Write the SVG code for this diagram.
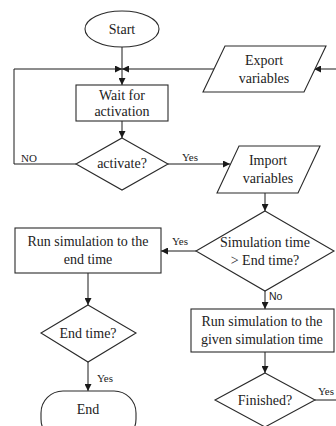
<svg xmlns="http://www.w3.org/2000/svg" width="336" height="426" viewBox="0 0 336 426">
  <style>
    .shape { fill: #ffffff; stroke: #2a2a2a; stroke-width: 1.1; }
    .line { fill: none; stroke: #1a1a1a; stroke-width: 1; }
    .txt { font-family: "Liberation Serif", "Times New Roman", serif; font-size: 14px; fill: #222; text-anchor: middle; }
    .lbl { font-family: "Liberation Serif", "Times New Roman", serif; font-size: 11px; fill: #222; }
    .lbl-sans { font-family: "Liberation Sans", Arial, sans-serif; font-size: 10.5px; fill: #222; }
  </style>
  <defs>
    <marker id="arrow" viewBox="0 0 10 10" refX="10" refY="5" markerWidth="7" markerHeight="7" markerUnits="userSpaceOnUse" orient="auto">
      <path d="M0,0 L10,5 L0,10 z" fill="#1a1a1a"/>
    </marker>
  </defs>
  <rect width="336" height="426" fill="#ffffff"/>

  <!-- connectors -->
  <g id="connectors">
    <line class="line" x1="122" y1="47" x2="122" y2="85" marker-end="url(#arrow)"/>
    <polyline class="line" points="76,164 14,164 14,69 122,69" marker-end="url(#arrow)"/>
    <line class="line" x1="214" y1="69" x2="122" y2="69" marker-end="url(#arrow)"/>
    <line class="line" x1="336" y1="69" x2="314" y2="69" marker-end="url(#arrow)"/>
    <line class="line" x1="122" y1="121" x2="122" y2="138" marker-end="url(#arrow)"/>
    <line class="line" x1="168" y1="164" x2="230" y2="164" marker-end="url(#arrow)"/>
    <line class="line" x1="265" y1="193" x2="265" y2="211" marker-end="url(#arrow)"/>
    <line class="line" x1="196" y1="251" x2="161" y2="251" marker-end="url(#arrow)"/>
    <line class="line" x1="265" y1="291" x2="265" y2="309" marker-end="url(#arrow)"/>
    <line class="line" x1="265" y1="352" x2="265" y2="373" marker-end="url(#arrow)"/>
    <line class="line" x1="315" y1="400" x2="336" y2="400"/>
    <line class="line" x1="88" y1="273" x2="88" y2="305" marker-end="url(#arrow)"/>
    <line class="line" x1="88" y1="362" x2="88" y2="391" marker-end="url(#arrow)"/>
    <text class="lbl" x="21" y="162">NO</text>
    <text class="lbl" x="182" y="161">Yes</text>
    <text class="lbl" x="172" y="245">Yes</text>
    <text class="lbl-sans" x="269" y="300">No</text>
    <text class="lbl" x="318" y="395">Yes</text>
    <text class="lbl" x="97" y="382">Yes</text>
  </g>

  <g id="start">
    <ellipse class="shape" cx="122" cy="29" rx="37" ry="18"/>
    <text class="txt" x="122" y="34">Start</text>
  </g>

  <g id="wait">
    <rect class="shape" x="76" y="85" width="92" height="36"/>
    <text class="txt" x="122" y="100">Wait for</text>
    <text class="txt" x="122" y="116">activation</text>
  </g>

  <g id="activate">
    <polygon class="shape" points="122,138 168,164 122,190 76,164"/>
    <text class="txt" x="122" y="168">activate?</text>
  </g>

  <g id="export">
    <polygon class="shape" points="225,46 326,46 304,92 203,92"/>
    <text class="txt" x="264" y="65">Export</text>
    <text class="txt" x="264" y="83">variables</text>
  </g>

  <g id="import">
    <polygon class="shape" points="239,146 320,146 298,193 217,193"/>
    <text class="txt" x="268" y="165">Import</text>
    <text class="txt" x="268" y="183">variables</text>
  </g>

  <g id="sim-check">
    <polygon class="shape" points="265,211 334,251 265,291 196,251"/>
    <text class="txt" x="265" y="247">Simulation time</text>
    <text class="txt" x="265" y="265">&gt; End time?</text>
  </g>

  <g id="run-end">
    <rect class="shape" x="15" y="228" width="146" height="45"/>
    <text class="txt" x="88" y="246">Run simulation to the</text>
    <text class="txt" x="88" y="264">end time</text>
  </g>

  <g id="run-given">
    <rect class="shape" x="191" y="309" width="143" height="43"/>
    <text class="txt" x="262" y="326">Run simulation to the</text>
    <text class="txt" x="262" y="344">given simulation time</text>
  </g>

  <g id="finished">
    <polygon class="shape" points="265,373 315,400 265,427 215,400"/>
    <text class="txt" x="265" y="405">Finished?</text>
  </g>

  <g id="end-time">
    <polygon class="shape" points="88,305 136,333 88,362 41,333"/>
    <text class="txt" x="88" y="338">End time?</text>
  </g>

  <g id="end">
    <rect class="shape" x="41" y="391" width="95" height="50" rx="22" ry="22"/>
    <text class="txt" x="88" y="414">End</text>
  </g>
</svg>
